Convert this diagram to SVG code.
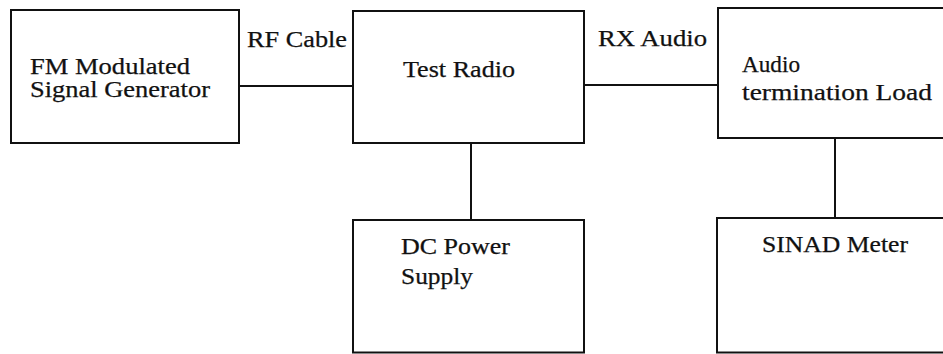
<svg xmlns="http://www.w3.org/2000/svg" width="943" height="354" viewBox="0 0 943 354">
<style>
.box{fill:#fff;stroke:#111;stroke-width:2}
.wire{stroke:#111;stroke-width:2;fill:none}
text{font-family:"Liberation Serif","Times New Roman",serif;font-size:23px;fill:#111;stroke:#111;stroke-width:0.25}
</style>
<rect width="943" height="354" fill="#fff"/>
<g id="connectors">
<line class="wire" x1="239" y1="86" x2="353" y2="86"/>
<line class="wire" x1="584" y1="85" x2="718" y2="85"/>
<line class="wire" x1="471" y1="143" x2="471" y2="220"/>
<line class="wire" x1="835" y1="138" x2="835" y2="218"/>
<text x="247" y="47" textLength="100" lengthAdjust="spacingAndGlyphs">RF Cable</text>
<text x="598" y="46" textLength="109" lengthAdjust="spacingAndGlyphs">RX Audio</text>
</g>
<g id="fm-generator">
<rect class="box" x="11" y="10" width="228" height="133"/>
<text x="30" y="74" textLength="160" lengthAdjust="spacingAndGlyphs">FM Modulated</text>
<text x="30" y="97" textLength="180" lengthAdjust="spacingAndGlyphs">Signal Generator</text>
</g>
<g id="test-radio">
<rect class="box" x="353" y="11" width="231" height="132"/>
<text x="403" y="77" textLength="112" lengthAdjust="spacingAndGlyphs">Test Radio</text>
</g>
<g id="audio-load">
<rect class="box" x="718" y="8" width="250" height="130"/>
<text x="742" y="72" textLength="58" lengthAdjust="spacingAndGlyphs">Audio</text>
<text x="742" y="100" textLength="190" lengthAdjust="spacingAndGlyphs">termination Load</text>
</g>
<g id="dc-power">
<rect class="box" x="353" y="220" width="231" height="132.5"/>
<text x="401" y="254" textLength="109" lengthAdjust="spacingAndGlyphs">DC Power</text>
<text x="401" y="284" textLength="72" lengthAdjust="spacingAndGlyphs">Supply</text>
</g>
<g id="sinad-meter">
<rect class="box" x="717" y="218" width="250" height="134.5"/>
<text x="762" y="252" textLength="146" lengthAdjust="spacingAndGlyphs">SINAD Meter</text>
</g>
</svg>
